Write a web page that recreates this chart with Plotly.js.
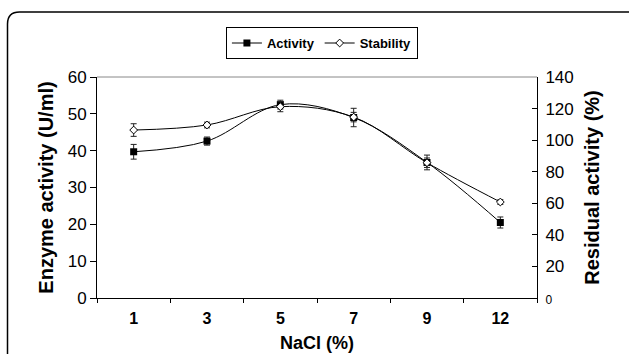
<!DOCTYPE html>
<html>
<head>
<meta charset="utf-8">
<script src="https://cdn.plot.ly/plotly-3.0.1.min.js"></script>
<style>
  html, body { margin: 0; padding: 0; background: #fff; }
  #chart { width: 629px; height: 354px; }
</style>
</head>
<body>
<div id="chart"></div>
<script>
// NaCl concentration categories
const nacl = ["1", "3", "5", "7", "9", "12"];
// Enzyme activity (U/ml), left axis
const activity = [39.7, 42.6, 52.5, 49.0, 36.8, 20.5];
const activityErr = [2.0, 1.1, 1.2, 2.5, 2.0, 1.5];
// Residual activity (%), right axis
const stability = [106.4, 109.6, 121.2, 114.6, 85.7, 60.8];
const stabilityErr = [4.0, 1.8, 3.2, 3.0, 3.0, 1.5];
// Axis tick labels
const leftTicks = [0, 10, 20, 30, 40, 50, 60];
const rightTicks = [0, 20, 40, 60, 80, 100, 120, 140];

const FONT = "Liberation Sans, Arial, Helvetica, sans-serif";

const traces = [
  {
    x: nacl, y: activity, name: "Activity", type: "scatter", mode: "lines+markers",
    line: { color: "#000", width: 1, shape: "spline", smoothing: 1 },
    marker: { symbol: "square", size: 7, color: "#000" },
    error_y: { type: "data", array: activityErr, visible: true, color: "#222", thickness: 1, width: 3 },
    yaxis: "y"
  },
  {
    x: nacl, y: stability, name: "Stability", type: "scatter", mode: "lines+markers",
    line: { color: "#000", width: 1, shape: "spline", smoothing: 1 },
    marker: { symbol: "diamond", size: 6, color: "#fff", line: { color: "#000", width: 1 } },
    error_y: { type: "data", array: stabilityErr, visible: true, color: "#222", thickness: 1, width: 3 },
    yaxis: "y2"
  }
];

const rightText = rightTicks.map(v => v === 0 ? '<span style="font-size:12px">0</span>' : String(v));

const layout = {
  width: 629, height: 354,
  margin: { l: 97, r: 92, t: 77, b: 56, pad: 0 },
  paper_bgcolor: "#fff", plot_bgcolor: "#fff",
  font: { family: FONT, color: "#000" },
  showlegend: true,
  legend: {
    orientation: "h", x: 0.293, y: 1.226, xanchor: "left", yanchor: "top",
    bordercolor: "#000", borderwidth: 1, bgcolor: "#fff",
    font: { family: FONT, size: 13, weight: "bold", color: "#000" },
    itemwidth: 30, tracegroupgap: 0
  },
  xaxis: {
    type: "category", range: [-0.5, 5.5],
    showline: true, linecolor: "#000", linewidth: 1,
    ticks: "outside", tickson: "boundaries", ticklen: 4, tickcolor: "#000",
    showgrid: false, zeroline: false, ticklabelstandoff: 6,
    tickfont: { family: FONT, size: 16, weight: "bold" },
    title: { text: "NaCl (%)", font: { family: FONT, size: 18, weight: "bold" }, standoff: 10 }
  },
  yaxis: {
    range: [0, 60], tickvals: leftTicks,
    showline: true, linecolor: "#000", linewidth: 1,
    ticks: "outside", ticklen: 6, tickcolor: "#000",
    showgrid: false, zeroline: false,
    tickfont: { family: FONT, size: 17 },
    title: { text: "Enzyme activity (U/ml)", font: { family: FONT, size: 20, weight: "bold" }, standoff: 8 }
  },
  yaxis2: {
    overlaying: "y", side: "right", range: [0, 140], tickvals: rightTicks, ticktext: rightText,
    showline: true, linecolor: "#000", linewidth: 1,
    ticks: "inside", ticklen: 5, tickcolor: "#000",
    showgrid: false, zeroline: false, ticklabelstandoff: 4,
    tickfont: { family: FONT, size: 17 },
    title: { text: "Residual activity (%)", font: { family: FONT, size: 20, weight: "bold" }, standoff: 12 }
  },
  shapes: [
    { type: "line", xref: "paper", yref: "paper", x0: 0, x1: 1, y0: 1, y1: 1,
      line: { color: "#888", width: 1 } },
    { type: "path", xref: "paper", yref: "paper",
      path: "M -0.2034,-0.344 L -0.2034,1.2398 Q -0.2034,1.2941 -0.1761,1.2941 L 1.25,1.2941",
      line: { color: "#000", width: 1.5 } }
  ]
};

Plotly.newPlot("chart", traces, layout, { displayModeBar: false, staticPlot: true });
</script>
</body>
</html>
